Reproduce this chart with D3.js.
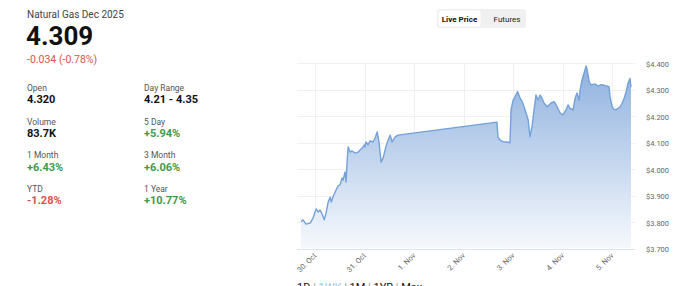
<!DOCTYPE html>
<html lang="en">
<head>
<meta charset="utf-8">
<script src="https://d3js.org/d3.v7.min.js"></script>
<style>
  body { margin: 0; background: #fff; overflow: hidden; }
  svg { display: block; font-family: Roboto, "Noto Sans", sans-serif; }
</style>
</head>
<body>
<svg id="chart" width="700" height="286"></svg>
<script>
// ---- data ----
const title = "Natural Gas Dec 2025"
const lastPrice = "4.309"
const change = "-0.034 (-0.78%)"

const statLabels = ["Open", "Day Range", "Volume", "5 Day", "1 Month", "3 Month", "YTD", "1 Year"]
const statValues = ["4.320", "4.21 - 4.35", "83.7K", "+5.94%", "+6.43%", "+6.06%", "-1.28%", "+10.77%"]

const priceTicks = [3.7, 3.8, 3.9, 4.0, 4.1, 4.2, 4.3, 4.4]
const dayTicks = ["2025-10-30", "2025-10-31", "2025-11-01", "2025-11-02", "2025-11-03", "2025-11-04", "2025-11-05"]
const ranges = ["1D", "1WK", "1M", "1YR", "Max"]

const gasSeries = [
  ["2025-10-29 17:10", 3.801], ["2025-10-29 18:10", 3.808], ["2025-10-29 19:35", 3.792],
  ["2025-10-29 21:35", 3.796], ["2025-10-29 23:00", 3.815], ["2025-10-30 00:30", 3.849],
  ["2025-10-30 01:30", 3.838], ["2025-10-30 02:25", 3.845], ["2025-10-30 03:25", 3.830],
  ["2025-10-30 04:25", 3.808], ["2025-10-30 05:20", 3.834], ["2025-10-30 06:20", 3.875],
  ["2025-10-30 07:20", 3.894], ["2025-10-30 07:50", 3.875], ["2025-10-30 08:40", 3.894],
  ["2025-10-30 10:10", 3.921], ["2025-10-30 11:10", 3.936], ["2025-10-30 12:05", 3.940],
  ["2025-10-30 13:05", 3.966], ["2025-10-30 13:35", 3.958], ["2025-10-30 14:30", 3.989],
  ["2025-10-30 15:00", 3.951], ["2025-10-30 15:30", 4.023], ["2025-10-30 16:00", 4.083],
  ["2025-10-30 17:00", 4.064], ["2025-10-30 17:55", 4.068], ["2025-10-30 19:25", 4.060],
  ["2025-10-30 20:50", 4.064], ["2025-10-30 21:50", 4.072], ["2025-10-30 22:50", 4.079],
  ["2025-10-30 23:50", 4.091], ["2025-10-31 00:10", 4.083], ["2025-10-31 00:40", 4.102],
  ["2025-10-31 01:40", 4.091], ["2025-10-31 02:40", 4.106], ["2025-10-31 04:05", 4.102],
  ["2025-10-31 05:05", 4.117], ["2025-10-31 06:05", 4.140], ["2025-10-31 07:00", 4.102],
  ["2025-10-31 08:00", 4.026], ["2025-10-31 09:00", 4.042], ["2025-10-31 10:25", 4.087],
  ["2025-10-31 11:25", 4.109], ["2025-10-31 12:25", 4.128], ["2025-10-31 13:20", 4.102],
  ["2025-10-31 14:50", 4.121], ["2025-10-31 16:10", 4.128],
  ["2025-11-02 16:10", 4.177], ["2025-11-02 16:40", 4.121], ["2025-11-02 17:40", 4.109],
  ["2025-11-02 19:10", 4.103], ["2025-11-02 21:05", 4.102], ["2025-11-02 22:30", 4.099],
  ["2025-11-02 23:00", 4.223], ["2025-11-03 00:00", 4.260], ["2025-11-03 01:00", 4.273],
  ["2025-11-03 02:10", 4.292], ["2025-11-03 03:25", 4.268], ["2025-11-03 04:25", 4.254],
  ["2025-11-03 05:20", 4.235], ["2025-11-03 06:50", 4.197], ["2025-11-03 07:20", 4.185],
  ["2025-11-03 08:10", 4.121], ["2025-11-03 09:10", 4.160], ["2025-11-03 10:10", 4.223],
  ["2025-11-03 11:05", 4.279], ["2025-11-03 12:05", 4.260], ["2025-11-03 13:05", 4.279],
  ["2025-11-03 14:00", 4.268], ["2025-11-03 15:00", 4.249], ["2025-11-03 16:30", 4.235],
  ["2025-11-03 18:25", 4.249], ["2025-11-03 19:55", 4.254], ["2025-11-03 21:20", 4.235],
  ["2025-11-03 22:50", 4.211], ["2025-11-04 00:10", 4.204], ["2025-11-04 01:40", 4.223],
  ["2025-11-04 02:40", 4.242], ["2025-11-04 03:35", 4.230], ["2025-11-04 05:05", 4.223],
  ["2025-11-04 06:05", 4.268], ["2025-11-04 07:00", 4.287], ["2025-11-04 08:00", 4.260],
  ["2025-11-04 08:30", 4.298], ["2025-11-04 09:25", 4.336], ["2025-11-04 10:25", 4.362],
  ["2025-11-04 11:25", 4.389], ["2025-11-04 11:55", 4.374], ["2025-11-04 12:55", 4.329],
  ["2025-11-04 13:50", 4.317], ["2025-11-04 15:50", 4.321], ["2025-11-04 17:10", 4.313],
  ["2025-11-04 18:40", 4.318], ["2025-11-04 20:05", 4.316], ["2025-11-04 21:05", 4.313],
  ["2025-11-04 22:30", 4.311], ["2025-11-04 23:00", 4.273], ["2025-11-05 00:00", 4.235],
  ["2025-11-05 01:00", 4.225], ["2025-11-05 01:55", 4.223], ["2025-11-05 02:55", 4.229],
  ["2025-11-05 03:55", 4.235], ["2025-11-05 04:50", 4.248], ["2025-11-05 05:50", 4.267],
  ["2025-11-05 06:50", 4.292], ["2025-11-05 07:40", 4.323], ["2025-11-05 08:40", 4.342],
  ["2025-11-05 09:10", 4.309]
]

const parseTime = d3.timeParse("%Y-%m-%d %H:%M")
const parseDay = d3.timeParse("%Y-%m-%d")
const data = gasSeries.map(d => ({ t: parseTime(d[0]), v: d[1] }))

const svg = d3.select("#chart")

// ---- left quote panel ----
const info = svg.append("g")
info.append("text").attr("x", 27).attr("y", 18)
  .attr("font-size", 10).attr("fill", "#444").text(title)
info.append("text").attr("x", 26).attr("y", 45)
  .attr("font-size", 26).attr("font-weight", 700).attr("fill", "#111").text(lastPrice)
info.append("text").attr("x", 27).attr("y", 63)
  .attr("font-size", 10.5).attr("fill", "#d9534f").text(change)

const valueColor = v => v.startsWith("+") ? "#3e9a4b" : v.startsWith("-") && v.endsWith("%") ? "#d9534f" : "#111"

statLabels.forEach((lab, i) => {
  const x = i % 2 === 0 ? 27 : 144
  const y = 91 + Math.floor(i / 2) * 33.7
  info.append("text").attr("x", x).attr("y", y)
    .attr("font-size", 8.5).attr("fill", "#555").text(lab)
  info.append("text").attr("x", x).attr("y", y + 12.3)
    .attr("font-size", 11).attr("font-weight", 700)
    .attr("fill", valueColor(statValues[i])).text(statValues[i])
})

// ---- toggle buttons ----
const btn = svg.append("g")
btn.append("rect").attr("x", 437).attr("y", 9).attr("width", 89).attr("height", 19)
  .attr("rx", 3).attr("fill", "#f0f0f0")
btn.append("rect").attr("x", 438.5).attr("y", 10.5).attr("width", 42).attr("height", 16)
  .attr("rx", 3).attr("fill", "#fff")
btn.append("text").attr("x", 459.5).attr("y", 21.5).attr("text-anchor", "middle")
  .attr("font-size", 8).attr("font-weight", 700).attr("fill", "#111").text("Live Price")
btn.append("text").attr("x", 507).attr("y", 21.5).attr("text-anchor", "middle")
  .attr("font-size", 8).attr("fill", "#222").text("Futures")

// ---- chart ----
const x = d3.scaleTime()
  .domain(d3.extent(data, d => d.t))
  .range([301, 631])
const y = d3.scaleLinear()
  .domain([3.7, 4.4])
  .range([248.5, 63])

const plotLeft = 297, plotRight = 635

// horizontal grid
svg.append("g")
  .selectAll("line")
  .data(priceTicks.slice(1))
  .join("line")
    .attr("x1", plotLeft).attr("x2", plotRight)
    .attr("y1", d => Math.round(y(d)) + 0.5).attr("y2", d => Math.round(y(d)) + 0.5)
    .attr("stroke", "#f0f0f0")

// vertical grid
svg.append("g")
  .selectAll("line")
  .data(dayTicks.map(parseDay))
  .join("line")
    .attr("x1", d => Math.round(x(d)) + 0.5).attr("x2", d => Math.round(x(d)) + 0.5)
    .attr("y1", y(4.4)).attr("y2", y(3.7))
    .attr("stroke", "#f0f0f0")

// area gradient
const defs = svg.append("defs")
const grad = defs.append("linearGradient").attr("id", "areaFill")
  .attr("gradientUnits", "userSpaceOnUse")
  .attr("x1", 0).attr("x2", 0).attr("y1", y(4.4)).attr("y2", y(3.7))
grad.append("stop").attr("offset", "0%").attr("stop-color", "#8db0de")
grad.append("stop").attr("offset", "100%").attr("stop-color", "#f6f9fd")

const area = d3.area()
  .x(d => x(d.t))
  .y0(y(3.7))
  .y1(d => y(d.v))
svg.append("path").datum(data)
  .attr("d", area)
  .attr("fill", "url(#areaFill)")

const line = d3.line()
  .x(d => x(d.t))
  .y(d => y(d.v))
svg.append("path").datum(data)
  .attr("d", line)
  .attr("fill", "none")
  .attr("stroke", "#74a1da")
  .attr("stroke-width", 1.4)
  .attr("stroke-linejoin", "round")

// bottom axis line
svg.append("line")
  .attr("x1", plotLeft).attr("x2", plotRight)
  .attr("y1", Math.round(y(3.7)) + 0.5).attr("y2", Math.round(y(3.7)) + 0.5)
  .attr("stroke", "#dde3ea")

// y axis labels (right side)
svg.append("g")
  .selectAll("text")
  .data(priceTicks)
  .join("text")
    .attr("x", 646)
    .attr("y", d => y(d) + 3.5)
    .attr("font-size", 7.5)
    .attr("fill", "#666")
    .text(d => "$" + d.toFixed(3))

// x axis labels, rotated
const fmtDay = d3.timeFormat("%-d. %b")
svg.append("g")
  .selectAll("text")
  .data(dayTicks.map(parseDay))
  .join("text")
    .attr("transform", d => `translate(${x(d) + 2},${256}) rotate(-45)`)
    .attr("text-anchor", "end")
    .attr("font-size", 7.5)
    .attr("fill", "#666")
    .text(d => fmtDay(d))

// range selector (cut off at bottom)
const rs = svg.append("text").attr("x", 297).attr("y", 291).attr("font-size", 11).attr("fill", "#111")
ranges.forEach((r, i) => {
  if (i > 0) rs.append("tspan").attr("fill", "#999").text(" | ")
  rs.append("tspan").attr("fill", r === "1WK" ? "#9cc3ea" : "#111").text(r)
})
</script>
</body>
</html>
